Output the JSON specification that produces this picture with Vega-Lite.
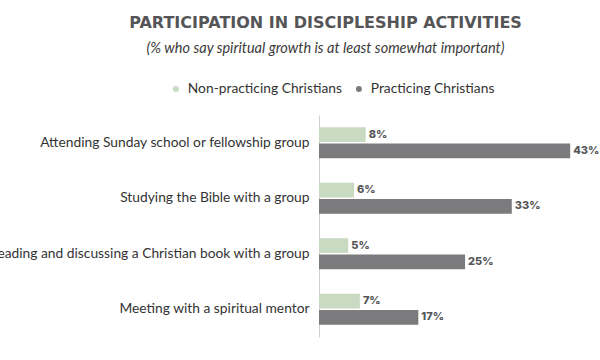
{
  "$schema": "https://vega.github.io/schema/vega-lite/v6.json",
  "autosize": "none",
  "width": 281,
  "height": 222,
  "padding": {"left": 319, "top": 115, "right": 0, "bottom": 23},
  "background": "white",
  "title": {
    "text": "PARTICIPATION IN DISCIPLESHIP ACTIVITIES",
    "subtitle": "(% who say spiritual growth is at least somewhat important)",
    "anchor": "middle",
    "frame": "group",
    "dx": -134,
    "offset": 27,
    "font": "DejaVu Sans",
    "fontSize": 16,
    "fontWeight": "bold",
    "color": "#555558",
    "subtitleFont": "Lato",
    "subtitleFontSize": 14.5,
    "subtitleFontStyle": "italic",
    "subtitleColor": "#3a3a3a",
    "subtitlePadding": 11
  },
  "data": {
    "values": [
      {"activity": "Attending Sunday school or fellowship group", "group": "Non-practicing Christians", "value": 0.08},
      {"activity": "Attending Sunday school or fellowship group", "group": "Practicing Christians", "value": 0.43},
      {"activity": "Studying the Bible with a group", "group": "Non-practicing Christians", "value": 0.06},
      {"activity": "Studying the Bible with a group", "group": "Practicing Christians", "value": 0.33},
      {"activity": "Reading and discussing a Christian book with a group", "group": "Non-practicing Christians", "value": 0.05},
      {"activity": "Reading and discussing a Christian book with a group", "group": "Practicing Christians", "value": 0.25},
      {"activity": "Meeting with a spiritual mentor", "group": "Non-practicing Christians", "value": 0.07},
      {"activity": "Meeting with a spiritual mentor", "group": "Practicing Christians", "value": 0.17}
    ]
  },
  "encoding": {
    "y": {
      "field": "activity",
      "type": "nominal",
      "sort": null,
      "scale": {"paddingInner": 0.44, "paddingOuter": 0.22},
      "axis": {
        "title": null,
        "ticks": false,
        "domainColor": "#d0d0d0",
        "labelFont": "Lato",
        "labelFontSize": 13.8,
        "labelColor": "#333333",
        "labelPadding": 10,
        "labelLimit": 0
      }
    },
    "yOffset": {
      "field": "group",
      "type": "nominal",
      "sort": ["Non-practicing Christians", "Practicing Christians"],
      "scale": {"paddingInner": 0.1}
    },
    "x": {
      "field": "value",
      "type": "quantitative",
      "scale": {"domain": [0, 0.481]},
      "axis": null
    }
  },
  "layer": [
    {
      "mark": {"type": "bar"},
      "encoding": {
        "color": {
          "field": "group",
          "type": "nominal",
          "scale": {
            "domain": ["Non-practicing Christians", "Practicing Christians"],
            "range": ["#c9dac3", "#7b7b7e"]
          },
          "legend": {
            "title": null,
            "orient": "none",
            "direction": "horizontal",
            "legendX": -150,
            "legendY": -33,
            "symbolType": "circle",
            "symbolSize": 36,
            "labelFont": "Lato",
            "labelFontSize": 13.8,
            "labelColor": "#333333",
            "columnPadding": 10,
            "labelOffset": 5
          }
        }
      }
    },
    {
      "mark": {
        "type": "text",
        "align": "left",
        "baseline": "middle",
        "dx": 3,
        "font": "Inter",
        "fontWeight": 800,
        "fontSize": 11,
        "color": "#555558"
      },
      "encoding": {
        "text": {"field": "value", "type": "quantitative", "format": ".0%"}
      }
    }
  ],
  "config": {
    "view": {"stroke": null}
  }
}
